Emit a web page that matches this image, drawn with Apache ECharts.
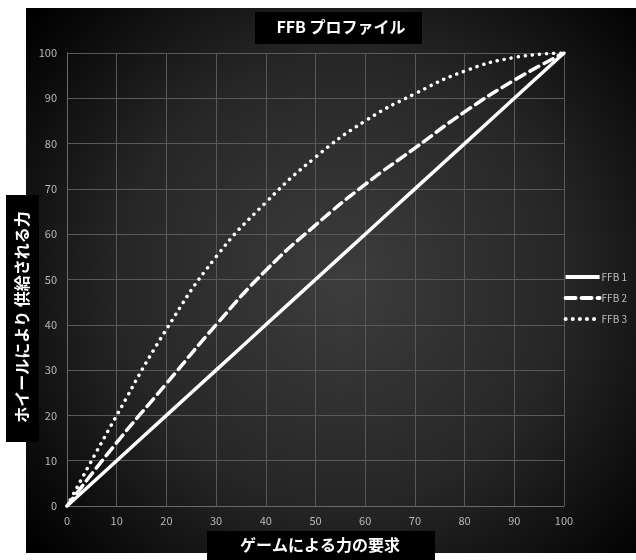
<!DOCTYPE html>
<html>
<head>
<meta charset="utf-8">
<script src="https://cdn.jsdelivr.net/npm/echarts@6/dist/echarts.min.js"></script>
<style>html,body{margin:0;padding:0;background:#fff}#c{width:636px;height:560px}</style>
</head>
<body>
<div id="c"></div>
<script>
const xValues = [0, 10, 20, 30, 40, 50, 60, 70, 80, 90, 100];
const ffb1 = [0, 10, 20, 30, 40, 50, 60, 70, 80, 90, 100];
const ffb2 = [0, 14, 27, 40, 52, 62, 71, 79, 87, 94, 100];
const ffb3 = [0, 20, 39, 55, 67, 77, 85, 91, 96, 99, 100];
const seriesNames = ['FFB 1', 'FFB 2', 'FFB 3'];
const titleText = 'FFB プロファイル';
const xTitle = 'ゲームによる力の要求';
const yTitle = 'ホイールにより 供給される力';

const pair = (arr) => xValues.map((x, i) => [x, arr[i]]);
const font = '"Noto Sans CJK JP", "Noto Sans", sans-serif';
const chart = echarts.init(document.getElementById('c'));
chart.setOption({
  animation: false,
  backgroundColor: '#ffffff',
  grid: { left: 67, right: 72, top: 53, bottom: 54 },
  xAxis: {
    type: 'value', min: 0, max: 100, interval: 10,
    axisLine: { show: true, lineStyle: { color: '#6a6a6a', width: 1 } },
    axisTick: { show: false },
    axisLabel: { color: '#b4b9be', fontSize: 11, fontFamily: font, margin: 9 },
    splitLine: { show: true, lineStyle: { color: '#595959', width: 1 } }
  },
  yAxis: {
    type: 'value', min: 0, max: 100, interval: 10,
    axisLine: { show: true, lineStyle: { color: '#6a6a6a', width: 1 } },
    axisTick: { show: false },
    axisLabel: { color: '#b4b9be', fontSize: 11, fontFamily: font, margin: 10 },
    splitLine: { show: true, lineStyle: { color: '#595959', width: 1 } }
  },
  legend: {
    orient: 'vertical', right: 4, top: 267, itemWidth: 34, itemHeight: 10, itemGap: 11,
    data: seriesNames,
    itemStyle: { opacity: 0 },
    lineStyle: { width: 4 },
    textStyle: { color: '#bdbdbd', fontSize: 10, fontFamily: font, padding: [0, 0, 0, -3] }
  },
  graphic: [
    { type: 'rect', z: -10, silent: true, shape: { x: 26, y: 8, width: 610, height: 545 },
      style: { fill: new echarts.graphic.RadialGradient(0.52, 0.5, 0.75, [
        { offset: 0, color: '#3d3d3d' }, { offset: 0.55, color: '#262626' }, { offset: 1, color: '#000000' }]) } },
    { type: 'rect', z: 10, shape: { x: 255, y: 12, width: 167, height: 32 }, style: { fill: '#000' } },
    { type: 'text', z: 11, x: 341, y: 27, style: { text: titleText, fill: '#fff', font: 'bold 16px ' + font, align: 'center', verticalAlign: 'middle' } },
    { type: 'rect', z: 10, shape: { x: 6, y: 195, width: 33, height: 247 }, style: { fill: '#000' } },
    { type: 'text', z: 11, x: 22, y: 317, rotation: Math.PI / 2, style: { text: yTitle, fill: '#fff', font: 'bold 16px ' + font, align: 'center', verticalAlign: 'middle' } },
    { type: 'rect', z: 10, shape: { x: 207, y: 531, width: 228, height: 29 }, style: { fill: '#000' } },
    { type: 'text', z: 11, x: 320, y: 545, style: { text: xTitle, fill: '#fff', font: 'bold 16px ' + font, align: 'center', verticalAlign: 'middle' } }
  ],
  series: [
    { name: seriesNames[0], type: 'line', data: pair(ffb1), smooth: true, showSymbol: false, symbol: 'none',
      lineStyle: { color: '#ffffff', width: 3.5 }, itemStyle: { color: '#ffffff' } },
    { name: seriesNames[1], type: 'line', data: pair(ffb2), smooth: true, showSymbol: false, symbol: 'none',
      lineStyle: { color: '#ffffff', width: 3.5, type: [10, 6], cap: 'round' }, itemStyle: { color: '#ffffff' } },
    { name: seriesNames[2], type: 'line', data: pair(ffb3), smooth: true, showSymbol: false, symbol: 'none',
      lineStyle: { color: '#ffffff', width: 3.5, type: [0.1, 7], cap: 'round' }, itemStyle: { color: '#ffffff' } }
  ]
});
</script>
</body>
</html>
